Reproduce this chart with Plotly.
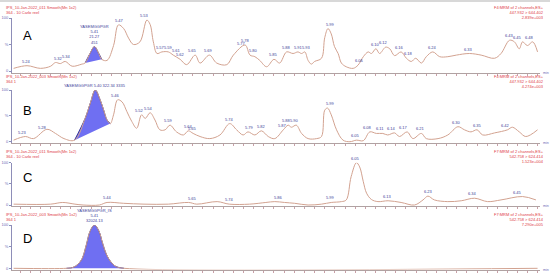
import numpy as np
import plotly.graph_objects as go
from plotly.subplots import make_subplots

# ---- data (retention time in min, relative intensity in %) ----
a_time = [5.209, 5.242, 5.275, 5.300, 5.312, 5.324, 5.336, 5.353, 5.377, 5.385, 5.397, 5.408,
          5.418, 5.426, 5.439, 5.455, 5.467, 5.480, 5.492, 5.504, 5.520, 5.537, 5.545, 5.553,
          5.562, 5.574, 5.590, 5.602, 5.619, 5.635, 5.656, 5.668, 5.691, 5.709, 5.734, 5.750,
          5.779, 5.791, 5.803, 5.815, 5.832, 5.850, 5.864, 5.881, 5.897, 5.909, 5.918, 5.926,
          5.934, 5.942, 5.950, 5.967, 5.975, 5.983, 5.991, 5.999, 6.008, 6.016, 6.028, 6.045,
          6.057, 6.070, 6.082, 6.090, 6.101, 6.110, 6.125, 6.135, 6.147, 6.163, 6.176, 6.188,
          6.199, 6.213, 6.225, 6.241, 6.258, 6.278, 6.299, 6.331, 6.360, 6.393, 6.409, 6.430,
          6.442, 6.454, 6.462, 6.474, 6.487, 6.499]
a_pct = [5, 10, 5, 9, 16, 14, 18, 9, 13, 15, 33, 46,
         34, 22, 20, 48, 87, 80, 62, 50, 55, 96, 88, 55,
         33, 36, 36, 30, 22, 12, 30, 15, 30, 15, 12, 30,
         49, 30, 27, 20, 8, 22, 15, 36, 33, 36, 33, 36,
         20, 13, 18, 24, 63, 80, 70, 46, 33, 15, 8, 5,
         11, 27, 36, 33, 42, 33, 45, 42, 29, 36, 24, 18,
         24, 15, 27, 36, 27, 27, 30, 33, 30, 24, 33, 58,
         55, 42, 55, 48, 55, 36]
a_labels = [5.24, 5.32, 5.34, 5.47, 5.53, 5.57, 5.59, 5.61, 5.62, 5.65, 5.69, 5.77, 5.78, 5.80,
            5.85, 5.88, 5.91, 5.93, 5.99, 6.06, 6.10, 6.12, 6.16, 6.18, 6.24, 6.33, 6.43, 6.45, 6.48]
a_peak = [5.385, 5.426]

b_time = [5.209, 5.238, 5.258, 5.291, 5.312, 5.333, 5.359, 5.385, 5.398, 5.410, 5.422, 5.430,
          5.439, 5.447, 5.455, 5.465, 5.476, 5.488, 5.500, 5.512, 5.524, 5.533, 5.545, 5.557,
          5.569, 5.582, 5.594, 5.610, 5.627, 5.639, 5.651, 5.668, 5.692, 5.717, 5.741, 5.758,
          5.774, 5.786, 5.803, 5.819, 5.836, 5.852, 5.873, 5.885, 5.893, 5.905, 5.918, 5.934,
          5.955, 5.967, 5.975, 5.982, 5.991, 6.004, 6.020, 6.037, 6.053, 6.070, 6.086, 6.102,
          6.118, 6.130, 6.147, 6.159, 6.178, 6.192, 6.213, 6.225, 6.254, 6.278, 6.303, 6.319,
          6.335, 6.350, 6.364, 6.393, 6.425, 6.437, 6.454, 6.470, 6.499]
b_pct = [3, 10, 6, 24, 16, 6, 3, 45, 75, 100, 81, 63,
         42, 35, 52, 81, 77, 58, 39, 26, 52, 45, 56, 42,
         23, 23, 32, 19, 13, 21, 16, 10, 6, 13, 35, 23,
         13, 19, 13, 21, 10, 6, 23, 32, 28, 32, 16, 6,
         6, 10, 61, 65, 52, 23, 3, 0, 3, 2, 19, 16,
         16, 13, 17, 10, 19, 6, 16, 6, 6, 13, 29, 23,
         19, 23, 13, 17, 23, 28, 19, 10, 23]
b_labels = [5.23, 5.28, 5.46, 5.52, 5.54, 5.59, 5.64, 5.65, 5.74, 5.79, 5.82, 5.87, 5.88, 5.90,
            5.99, 6.05, 6.08, 6.11, 6.14, 6.17, 6.21, 6.30, 6.35, 6.42]
b_peak = [5.359, 5.447]

c_time = [5.209, 5.300, 5.330, 5.360, 5.380, 5.420, 5.439, 5.480, 5.530, 5.590, 5.640, 5.660,
          5.710, 5.740, 5.790, 5.830, 5.852, 5.876, 5.901, 5.934, 5.967, 5.991, 6.016, 6.028,
          6.040, 6.053, 6.061, 6.070, 6.078, 6.090, 6.106, 6.131, 6.163, 6.196, 6.217, 6.229,
          6.245, 6.278, 6.311, 6.344, 6.376, 6.409, 6.462, 6.495]
c_pct = [2, 2, 6, 2, 0, 0, 6, 4, 2, 2, 6, 2,
         8, 2, 2, 6, 8, 6, 4, 0, 2, 6, 8, 12,
         67, 100, 90, 55, 28, 13, 8, 10, 6, 0, 12, 21,
         12, 8, 10, 16, 8, 12, 20, 12]
c_labels = [5.44, 5.65, 5.74, 5.86, 5.99, 6.05, 6.13, 6.23, 6.34, 6.45]

d_time = [5.209, 5.339, 5.355, 5.367, 5.378, 5.388, 5.397, 5.408, 5.419, 5.428, 5.438, 5.449,
          5.461, 5.481, 6.499]
d_pct = [0, 0, 2, 9, 23, 54, 85, 100, 86, 58, 31, 14, 4, 0, 0]
d_peak = [5.339, 5.481]

panels = [
    dict(letter="A", t=a_time, p=a_pct, labels=a_labels, peak=a_peak,
         head=["IPS_10-Jan-2022_011 Smooth(Mn 1x2)", "364 - 10 Carlo reel"],
         chan=["F4:MRM of 2 channels,ES+", "447.932 > 644.402", "2.839e+003"],
         tag="YASEMGGPGR<br>5.41<br>21.27<br>451"),
    dict(letter="B", t=b_time, p=b_pct, labels=b_labels, peak=b_peak,
         head=["IPS_10-Jan-2022_003 Smooth(Mn 1x2)", "364 1"],
         chan=["F4:MRM of 2 channels,ES+", "447.932 > 644.402", "4.274e+003"],
         tag="YASEMGGPGR 5.40 322.34 3335"),
    dict(letter="C", t=c_time, p=c_pct, labels=c_labels, peak=None,
         head=["IPS_10-Jan-2022_011 Smooth(Mn 1x2)", "364 - 10 Carlo reel"],
         chan=["F7:MRM of 2 channels,ES+", "542.758 > 624.414", "1.523e+004"],
         tag=None),
    dict(letter="D", t=d_time, p=d_pct, labels=[], peak=d_peak,
         head=["IPS_10-Jan-2022_003 Smooth(Mn 1x2)", "364 1"],
         chan=["F7:MRM of 2 channels,ES+", "542.758 > 624.414", "7.290e+005"],
         tag="YASEMGGPGR_IS<br>5.41<br>32024.13"),
]

# pixel layout (550 x 278 page): y of the 0 % and 100 % levels, header rows
W, H = 550, 278
zero_px = [71, 141.7, 205, 268.3]
full_px = [18, 90, 162.7, 225]
head_px = [3, 72, 147, 210]
letter_px = [35, 110, 177, 238]

LINE = "#d2a290"
LABEL = "#3d3d99"
RED = "#dd3b45"

fig = make_subplots(rows=4, cols=1)

for i, pn in enumerate(panels):
    r = i + 1
    t = np.array(pn["t"])
    p = np.array(pn["p"])

    if pn["peak"] is not None:
        lo, hi = pn["peak"]
        m = (t >= lo - 1e-9) & (t <= hi + 1e-9)
        fig.add_trace(go.Scatter(x=t[m], y=p[m], mode="lines", fill="toself",
                                 fillcolor="#6f6ff2", line=dict(color="#34349a", width=1),
                                 line_shape="spline", hoverinfo="skip"), row=r, col=1)
        peak_t = t[m][np.argmax(p[m])]
        peak_p = p[m].max()

    fig.add_trace(go.Scatter(x=t, y=p, mode="lines", line=dict(color=LINE, width=1),
                             line_shape="spline", hoverinfo="skip"), row=r, col=1)

    xa = "x" if r == 1 else f"x{r}"
    ya = "y" if r == 1 else f"y{r}"

    for lt in pn["labels"]:
        w = np.abs(t - lt) <= 0.009
        ly = p[w].max() if w.any() else np.interp(lt, t, p)
        fig.add_annotation(x=lt, y=ly, xref=xa, yref=ya, text=f"{lt:.2f}", showarrow=False,
                           yanchor="bottom", yshift=0, font=dict(size=4, color=LABEL))

    if pn["tag"]:
        fig.add_annotation(x=peak_t, y=peak_p, xref=xa, yref=ya, text=pn["tag"], showarrow=False,
                           yanchor="bottom", yshift=0, font=dict(size=4, color=LABEL))

    # domains from pixel positions, y range -3..100
    per = (zero_px[i] - full_px[i]) / 100
    bot = zero_px[i] + 3 * per
    fig.update_yaxes(domain=[1 - bot / H, 1 - full_px[i] / H], range=[-3, 100],
                     tickvals=[0, 50, 100], ticktext=["0", "%", "100"], automargin=False,
                     tickfont=dict(size=4, color="#6a6ab4"), ticks="outside", ticklen=2,
                     tickcolor="#8e8eb8", showline=True, linecolor="#8e8eb8", linewidth=1,
                     showgrid=False, zeroline=False, fixedrange=True, row=r, col=1)
    fig.update_xaxes(domain=[12 / W, 540 / W], range=[5.205, 6.505], showticklabels=False,
                     ticks="outside", ticklen=2, dtick=0.025, tick0=5.2, tickcolor="#c9a0a8",
                     showline=True, linecolor="#b0a2a2", linewidth=1, showgrid=False,
                     automargin=False, zeroline=False, row=r, col=1)

    # headers, letters and the "min" unit
    fig.add_annotation(x=4 / W, y=1 - head_px[i] / H, xref="paper", yref="paper",
                       text=pn["head"][0] + "<br>" + pn["head"][1], showarrow=False,
                       xanchor="left", yanchor="top", align="left",
                       font=dict(size=4, color=RED))
    fig.add_annotation(x=546 / W, y=1 - head_px[i] / H, xref="paper", yref="paper",
                       text="<br>".join(pn["chan"]), showarrow=False,
                       xanchor="right", yanchor="top", align="right",
                       font=dict(size=4, color=RED))
    fig.add_annotation(x=27 / W, y=1 - letter_px[i] / H, xref="paper", yref="paper",
                       text=pn["letter"], showarrow=False, xanchor="center", yanchor="middle",
                       font=dict(size=13, color="black"))
    fig.add_annotation(x=541 / W, y=1 - bot / H, xref="paper", yref="paper", text="min",
                       showarrow=False, xanchor="left", yanchor="middle",
                       font=dict(size=3.5, color="#6a6ab4"))

fig.add_shape(type="line", xref="paper", yref="paper", x0=0, x1=1, y0=1 - 1 / H, y1=1 - 1 / H,
              line=dict(color="#d8d8d8", width=2))

fig.update_layout(width=W, height=H, margin=dict(l=0, r=0, t=0, b=0), showlegend=False,
                  paper_bgcolor="white", plot_bgcolor="white",
                  font=dict(family="Arial, Liberation Sans, sans-serif"))

# the page body has a default 8px margin; drop it so the figure sits at 0,0
fig.write_html("out.html", config={"displayModeBar": False},
               post_script="document.body.style.margin='0';")
